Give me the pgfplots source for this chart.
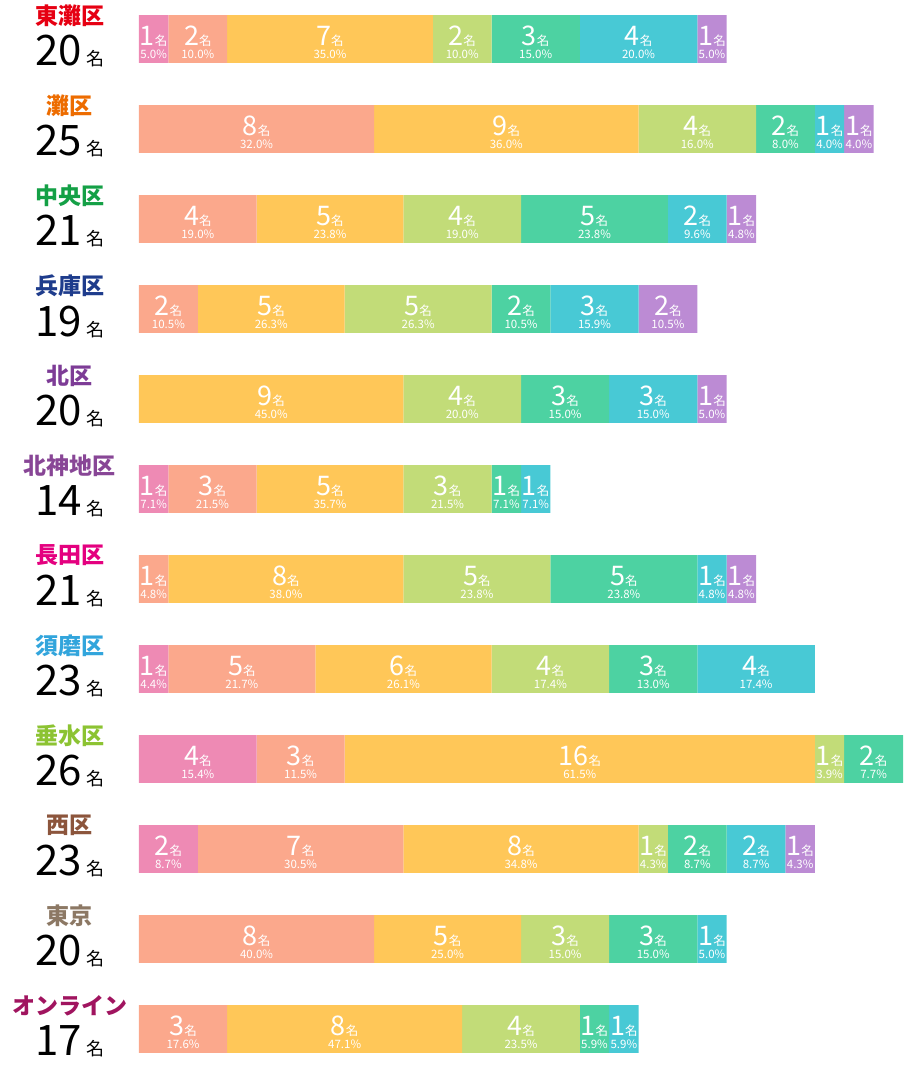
\documentclass[border=0pt]{standalone}
\usepackage{fontspec}
\setmainfont{Noto Sans CJK JP}
\usepackage{pgfplots}
\pgfplotsset{compat=1.18}
\definecolor{kPink}{RGB}{238,138,180}
\definecolor{kSalmon}{RGB}{251,168,140}
\definecolor{kYellow}{RGB}{255,199,88}
\definecolor{kGreen}{RGB}{194,220,120}
\definecolor{kTeal}{RGB}{77,210,162}
\definecolor{kCyan}{RGB}{72,201,213}
\definecolor{kPurple}{RGB}{188,139,212}
\definecolor{n0}{RGB}{230,0,18}
\definecolor{n1}{RGB}{237,108,0}
\definecolor{n2}{RGB}{20,160,70}
\definecolor{n3}{RGB}{30,60,140}
\definecolor{n4}{RGB}{125,60,150}
\definecolor{n5}{RGB}{136,70,150}
\definecolor{n6}{RGB}{228,0,127}
\definecolor{n7}{RGB}{50,165,220}
\definecolor{n8}{RGB}{140,195,50}
\definecolor{n9}{RGB}{140,85,60}
\definecolor{n10}{RGB}{140,120,100}
\definecolor{n11}{RGB}{160,20,95}
\newcommand{\lab}[2]{{\fontsize{27}{27}\selectfont #1}{\fontsize{12.5}{12.5}\selectfont 名}\\[1pt]{\fontsize{11.5}{11.5}\selectfont #2\%}}
\newcommand{\nm}[3]{{\color{#1}\bfseries #2}\\[8pt]{\fontsize{42}{42}\selectfont #3}\hspace{5pt}{\fontsize{18}{18}\selectfont 名}}
\pgfplotsset{common/.style={
  scale only axis, width=764pt, height=1071pt,
  xmin=0, xmax=26, ymin=-0.4333, ymax=11.4667, y dir=reverse,
  clip=false}}
\begin{document}
\begin{tikzpicture}
\begin{axis}[common,
  xbar stacked, bar width=0.533,
  axis line style={draw=none}, major tick length=0pt,
  xtick=\empty,
  ytick={0,...,11},
  yticklabels={
    {\nm{n0}{東灘区}{20}},
    {\nm{n1}{灘区}{25}},
    {\nm{n2}{中央区}{21}},
    {\nm{n3}{兵庫区}{19}},
    {\nm{n4}{北区}{20}},
    {\nm{n5}{北神地区}{14}},
    {\nm{n6}{長田区}{21}},
    {\nm{n7}{須磨区}{23}},
    {\nm{n8}{垂水区}{26}},
    {\nm{n9}{西区}{23}},
    {\nm{n10}{東京}{20}},
    {\nm{n11}{オンライン}{17}}},
  yticklabel style={anchor=center, xshift=-69pt, yshift=3pt, align=center, inner sep=0pt,
    font=\fontsize{23}{25}\selectfont},
]
\addplot[fill=kPink, draw=none] coordinates {(1,0) (0,1) (0,2) (0,3) (0,4) (1,5) (0,6) (1,7) (4,8) (2,9) (0,10) (0,11)};
\addplot[fill=kSalmon, draw=none] coordinates {(2,0) (8,1) (4,2) (2,3) (0,4) (3,5) (1,6) (5,7) (3,8) (7,9) (8,10) (3,11)};
\addplot[fill=kYellow, draw=none] coordinates {(7,0) (9,1) (5,2) (5,3) (9,4) (5,5) (8,6) (6,7) (16,8) (8,9) (5,10) (8,11)};
\addplot[fill=kGreen, draw=none] coordinates {(2,0) (4,1) (4,2) (5,3) (4,4) (3,5) (5,6) (4,7) (1,8) (1,9) (3,10) (4,11)};
\addplot[fill=kTeal, draw=none] coordinates {(3,0) (2,1) (5,2) (2,3) (3,4) (1,5) (5,6) (3,7) (2,8) (2,9) (3,10) (1,11)};
\addplot[fill=kCyan, draw=none] coordinates {(4,0) (1,1) (2,2) (3,3) (3,4) (1,5) (1,6) (4,7) (0,8) (2,9) (1,10) (1,11)};
\addplot[fill=kPurple, draw=none] coordinates {(1,0) (1,1) (1,2) (2,3) (1,4) (0,5) (1,6) (0,7) (0,8) (1,9) (0,10) (0,11)};
\end{axis}
\begin{axis}[common, hide axis]
\addplot[draw=none, nodes near coords, point meta=explicit symbolic,
  every node near coord/.append style={anchor=center, align=center, text=white, inner sep=0pt, yshift=-3pt}]
coordinates {
(0.5,0)[\lab{1}{5.0}] (2,0)[\lab{2}{10.0}] (6.5,0)[\lab{7}{35.0}] (11,0)[\lab{2}{10.0}] (13.5,0)[\lab{3}{15.0}] (17,0)[\lab{4}{20.0}] (19.5,0)[\lab{1}{5.0}]
(4,1)[\lab{8}{32.0}] (12.5,1)[\lab{9}{36.0}] (19,1)[\lab{4}{16.0}] (22,1)[\lab{2}{8.0}] (23.5,1)[\lab{1}{4.0}] (24.5,1)[\lab{1}{4.0}]
(2,2)[\lab{4}{19.0}] (6.5,2)[\lab{5}{23.8}] (11,2)[\lab{4}{19.0}] (15.5,2)[\lab{5}{23.8}] (19,2)[\lab{2}{9.6}] (20.5,2)[\lab{1}{4.8}]
(1,3)[\lab{2}{10.5}] (4.5,3)[\lab{5}{26.3}] (9.5,3)[\lab{5}{26.3}] (13,3)[\lab{2}{10.5}] (15.5,3)[\lab{3}{15.9}] (18,3)[\lab{2}{10.5}]
(4.5,4)[\lab{9}{45.0}] (11,4)[\lab{4}{20.0}] (14.5,4)[\lab{3}{15.0}] (17.5,4)[\lab{3}{15.0}] (19.5,4)[\lab{1}{5.0}]
(0.5,5)[\lab{1}{7.1}] (2.5,5)[\lab{3}{21.5}] (6.5,5)[\lab{5}{35.7}] (10.5,5)[\lab{3}{21.5}] (12.5,5)[\lab{1}{7.1}] (13.5,5)[\lab{1}{7.1}]
(0.5,6)[\lab{1}{4.8}] (5,6)[\lab{8}{38.0}] (11.5,6)[\lab{5}{23.8}] (16.5,6)[\lab{5}{23.8}] (19.5,6)[\lab{1}{4.8}] (20.5,6)[\lab{1}{4.8}]
(0.5,7)[\lab{1}{4.4}] (3.5,7)[\lab{5}{21.7}] (9,7)[\lab{6}{26.1}] (14,7)[\lab{4}{17.4}] (17.5,7)[\lab{3}{13.0}] (21,7)[\lab{4}{17.4}]
(2,8)[\lab{4}{15.4}] (5.5,8)[\lab{3}{11.5}] (15,8)[\lab{16}{61.5}] (23.5,8)[\lab{1}{3.9}] (25,8)[\lab{2}{7.7}]
(1,9)[\lab{2}{8.7}] (5.5,9)[\lab{7}{30.5}] (13,9)[\lab{8}{34.8}] (17.5,9)[\lab{1}{4.3}] (19,9)[\lab{2}{8.7}] (21,9)[\lab{2}{8.7}] (22.5,9)[\lab{1}{4.3}]
(4,10)[\lab{8}{40.0}] (10.5,10)[\lab{5}{25.0}] (14.5,10)[\lab{3}{15.0}] (17.5,10)[\lab{3}{15.0}] (19.5,10)[\lab{1}{5.0}]
(1.5,11)[\lab{3}{17.6}] (7,11)[\lab{8}{47.1}] (13,11)[\lab{4}{23.5}] (15.5,11)[\lab{1}{5.9}] (16.5,11)[\lab{1}{5.9}]
};
\end{axis}
\path (current axis.south west) ++(-139pt,0pt) (current axis.north east);
\end{tikzpicture}
\end{document}
